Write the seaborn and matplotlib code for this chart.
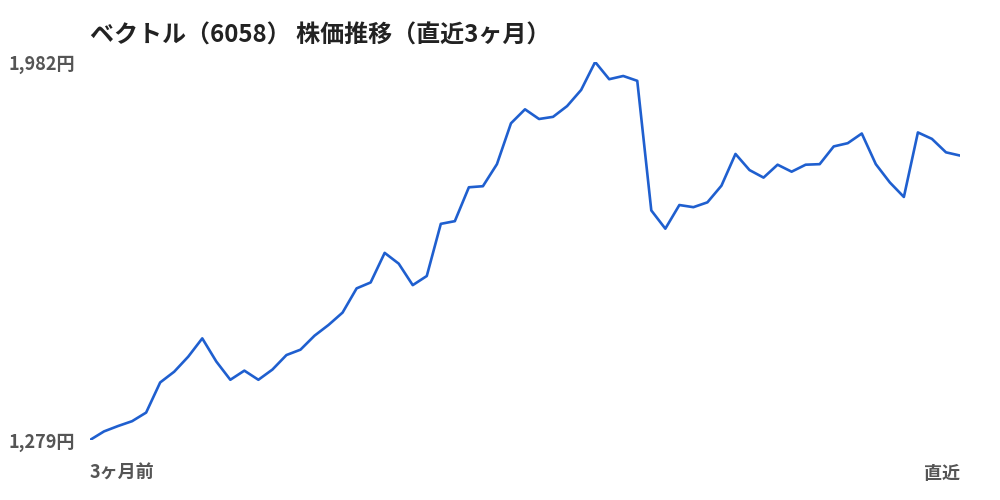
import matplotlib
matplotlib.use("Agg")
import matplotlib.pyplot as plt
import seaborn as sns
import pandas as pd
import numpy as np

title = "ベクトル（6058） 株価推移（直近3ヶ月）"
prices = [1279, 1295, 1305, 1314, 1330, 1386, 1406, 1434, 1468, 1425,
          1391, 1408, 1391, 1410, 1437, 1447, 1473, 1493, 1516, 1561,
          1572, 1627, 1607, 1567, 1584, 1681, 1686, 1749, 1751, 1792,
          1868, 1894, 1876, 1880, 1900, 1930, 1982, 1950, 1956, 1947,
          1706, 1672, 1716, 1712, 1721, 1752, 1811, 1781, 1767, 1791,
          1778, 1791, 1792, 1825, 1831, 1849, 1792, 1758, 1731, 1851,
          1839, 1814, 1808]
y_min, y_max = 1279, 1982
x_labels = ["3ヶ月前", "直近"]

sns.set_theme(style="white")
plt.rcParams['font.family'] = ['Noto Sans CJK JP', 'DejaVu Sans']

df = pd.DataFrame({"day": np.arange(len(prices)), "price": prices})

fig = plt.figure(figsize=(10, 5), dpi=100)
ax = fig.add_axes([0.09, 0.12, 0.87, 0.756])
sns.lineplot(data=df, x="day", y="price", ax=ax, color="#1f5fcf", linewidth=1.9)
ax.set_xlim(0, len(prices) - 1)
ax.set_ylim(y_min, y_max)
for s in ax.spines.values():
    s.set_visible(False)
ax.set_xlabel("")
ax.set_ylabel("")
ax.set_yticks([y_min, y_max])
ax.set_yticklabels([f"{y_min:,}円", f"{y_max:,}円"], fontsize=13, fontweight="bold", color="#555555")
ax.tick_params(axis="y", length=0, pad=11)
ax.set_xticks([])
ax.text(0, -0.088, x_labels[0], transform=ax.transAxes, ha="left", va="center",
        fontsize=13, fontweight="bold", color="#555555")
ax.text(1, -0.088, x_labels[1], transform=ax.transAxes, ha="right", va="center",
        fontsize=13, fontweight="bold", color="#555555")
fig.text(0.09, 0.928, title, ha="left", va="center", fontsize=17.3, fontweight="bold", color="#222222")

fig.savefig("out.png", dpi=100, facecolor="white")
